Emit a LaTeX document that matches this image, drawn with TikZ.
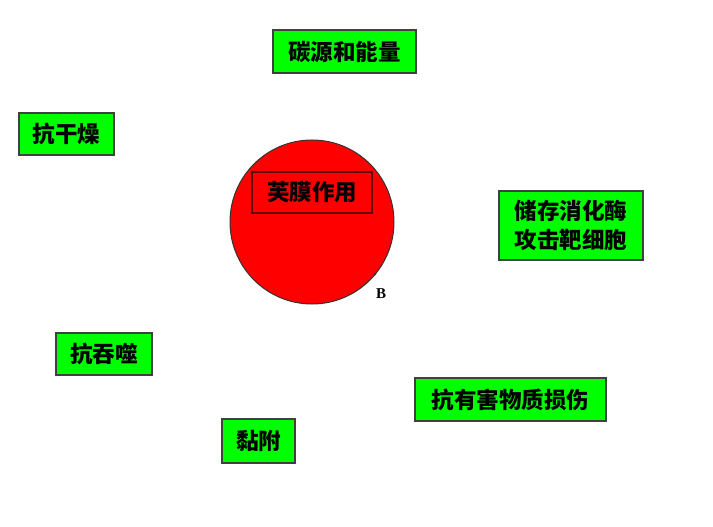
\documentclass[tikz,border=0pt]{standalone}
\usepackage{fontspec}
\newfontfamily\cjk{Noto Sans CJK SC}
\newfontfamily\tnr{Liberation Serif}
\begin{document}
\begin{tikzpicture}[x=1pt,y=-1pt,
  gbox/.style={draw=black!75,line width=1.6pt,fill=brightgreen,inner sep=0pt,font=\cjk\bfseries\fontsize{22.5}{29}\selectfont,align=center},
  rbox/.style={draw=red!40!black,line width=1.6pt,inner sep=0pt,font=\cjk\bfseries\fontsize{22.5}{29}\selectfont}]
\definecolor{brightgreen}{RGB}{0,255,0}
\useasboundingbox[fill=white] (0,0) rectangle (713,527);
\node[draw=black!80,fill=red,circle,minimum size=164pt,line width=1pt] (cell) at (312,222) {};
\node[rbox,minimum width=120pt,minimum height=41pt] (capsule) at (312,192.5) {芙膜作用};
\node[gbox,minimum width=143pt,minimum height=43pt] (carbon) at (344.5,51.5) {碳源和能量};
\node[gbox,minimum width=95pt,minimum height=42pt] (dry) at (66.5,134) {抗干燥};
\node[gbox,minimum width=144pt,minimum height=69pt] (enzyme) at (571,225.5) {储存消化酶\\攻击靶细胞};
\node[gbox,minimum width=96pt,minimum height=42pt] (phago) at (104,354) {抗吞噬};
\node[gbox,minimum width=191pt,minimum height=43pt] (harm) at (510.5,399.5) {抗有害物质损伤};
\node[gbox,minimum width=73pt,minimum height=44pt] (adhere) at (258.5,441) {黏附};
\coordinate (bpt) at (375,274);
\fill[black!80] (bpt) circle (1.3pt);
\node[font=\tnr\bfseries\fontsize{15}{17}\selectfont,inner sep=0pt] (blabel) at (381,294) {B};
\end{tikzpicture}
\end{document}
